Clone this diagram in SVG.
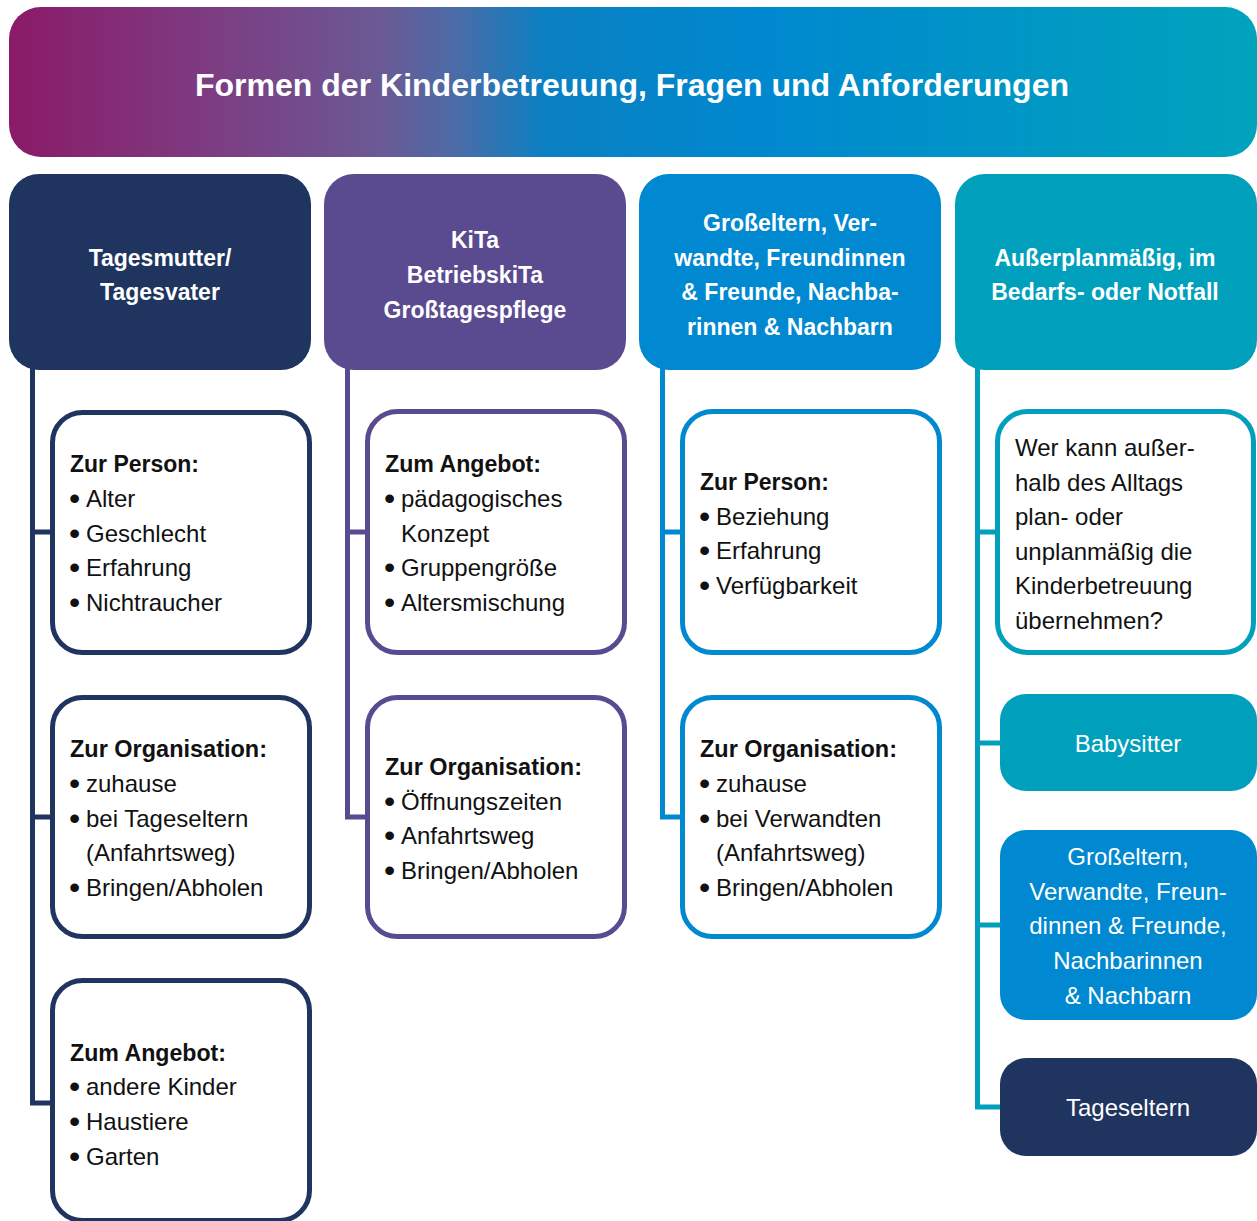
<svg xmlns="http://www.w3.org/2000/svg" width="1257" height="1221" viewBox="0 0 1257 1221">
<defs>
<linearGradient id="hg" x1="0" y1="0" x2="1" y2="0">
<stop offset="0" stop-color="#8B1A68"/>
<stop offset="0.17" stop-color="#7C3E83"/>
<stop offset="0.3" stop-color="#6A5A95"/>
<stop offset="0.36" stop-color="#4A6CA8"/>
<stop offset="0.43" stop-color="#0A80C2"/>
<stop offset="0.6" stop-color="#0088CF"/>
<stop offset="1" stop-color="#00A3BC"/>
</linearGradient>
<style>
text{font-family:"Liberation Sans",Arial,sans-serif;}
.t{fill:#fff;font-size:32px;font-weight:bold;}
.h{fill:#fff;font-size:23px;font-weight:bold;text-anchor:middle;}
.b{fill:#111;font-size:24px;}
.bu{font-size:32px;}
.bb{fill:#111;font-size:23px;font-weight:bold;}
.w{fill:#fff;font-size:24px;text-anchor:middle;}
.box{fill:#fff;stroke-width:5;}
.c{fill:none;stroke-width:5;}
.navy{fill:#1F3560;} .purple{fill:#5A4A90;} .blue{fill:#0088D0;} .teal{fill:#00A0BC;}
.sn{stroke:#1F3560;} .sp{stroke:#5A4A90;} .sb{stroke:#0088D0;} .st{stroke:#00A0BC;}
</style>
</defs>
<rect width="1257" height="1221" fill="#fff"/>

<g id="title">
<rect x="9" y="7" width="1248" height="150" rx="32" fill="url(#hg)"/>
<text class="t" x="632" y="96" text-anchor="middle" textLength="874" lengthAdjust="spacingAndGlyphs">Formen der Kinderbetreuung, Fragen und Anforderungen</text>
</g>

<g id="connectors">
<path class="c sn" d="M32.5,368 V1103 H53 M32.5,532 H53 M32.5,817 H53"/>
<path class="c sp" d="M347.5,368 V817 H368 M347.5,532 H368"/>
<path class="c sb" d="M662.5,368 V817 H683 M662.5,532 H683"/>
<path class="c st" d="M977.5,368 V1107 H1002 M977.5,532 H999 M977.5,743 H1002 M977.5,925 H1002"/>
</g>

<g id="col1-header">
<rect class="navy" x="9" y="174" width="302" height="196" rx="30"/>
<text class="h" x="160" y="266">Tagesmutter/</text>
<text class="h" x="160" y="300">Tagesvater</text>
</g>
<g id="col2-header">
<rect class="purple" x="324" y="174" width="302" height="196" rx="30"/>
<text class="h" x="475" y="248">KiTa</text>
<text class="h" x="475" y="283">BetriebskiTa</text>
<text class="h" x="475" y="318">Großtagespflege</text>
</g>
<g id="col3-header">
<rect class="blue" x="639" y="174" width="302" height="196" rx="30"/>
<text class="h" x="790" y="231">Großeltern, Ver-</text>
<text class="h" x="790" y="266">wandte, Freundinnen</text>
<text class="h" x="790" y="300">&amp; Freunde, Nachba-</text>
<text class="h" x="790" y="335">rinnen &amp; Nachbarn</text>
</g>
<g id="col4-header">
<rect class="teal" x="955" y="174" width="302" height="196" rx="30"/>
<text class="h" x="1105" y="266">Außerplanmäßig, im</text>
<text class="h" x="1105" y="300">Bedarfs- oder Notfall</text>
</g>

<g id="c1-person">
<rect class="box sn" x="52.5" y="412.5" width="257" height="240" rx="30"/>
<text class="bb" x="70" y="472" textLength="129" lengthAdjust="spacingAndGlyphs">Zur Person:</text>
<text class="b" x="69" y="507"><tspan class="bu" dy="2">•</tspan><tspan x="86" dy="-2">Alter</tspan></text>
<text class="b" x="69" y="542"><tspan class="bu" dy="2">•</tspan><tspan x="86" dy="-2">Geschlecht</tspan></text>
<text class="b" x="69" y="576"><tspan class="bu" dy="2">•</tspan><tspan x="86" dy="-2">Erfahrung</tspan></text>
<text class="b" x="69" y="611"><tspan class="bu" dy="2">•</tspan><tspan x="86" dy="-2">Nichtraucher</tspan></text>
</g>
<g id="c1-org">
<rect class="box sn" x="52.5" y="697.5" width="257" height="239" rx="30"/>
<text class="bb" x="70" y="757" textLength="197" lengthAdjust="spacingAndGlyphs">Zur Organisation:</text>
<text class="b" x="69" y="792"><tspan class="bu" dy="2">•</tspan><tspan x="86" dy="-2">zuhause</tspan></text>
<text class="b" x="69" y="827"><tspan class="bu" dy="2">•</tspan><tspan x="86" dy="-2">bei Tageseltern</tspan></text>
<text class="b" x="86" y="861">(Anfahrtsweg)</text>
<text class="b" x="69" y="896"><tspan class="bu" dy="2">•</tspan><tspan x="86" dy="-2">Bringen/Abholen</tspan></text>
</g>
<g id="c1-angebot">
<rect class="box sn" x="52.5" y="980.5" width="257" height="240" rx="30"/>
<text class="bb" x="70" y="1061" textLength="156" lengthAdjust="spacingAndGlyphs">Zum Angebot:</text>
<text class="b" x="69" y="1095"><tspan class="bu" dy="2">•</tspan><tspan x="86" dy="-2">andere Kinder</tspan></text>
<text class="b" x="69" y="1130"><tspan class="bu" dy="2">•</tspan><tspan x="86" dy="-2">Haustiere</tspan></text>
<text class="b" x="69" y="1165"><tspan class="bu" dy="2">•</tspan><tspan x="86" dy="-2">Garten</tspan></text>
</g>

<g id="c2-angebot">
<rect class="box sp" x="367.5" y="411.5" width="257" height="241" rx="30"/>
<text class="bb" x="385" y="472" textLength="156" lengthAdjust="spacingAndGlyphs">Zum Angebot:</text>
<text class="b" x="384" y="507"><tspan class="bu" dy="2">•</tspan><tspan x="401" dy="-2">pädagogisches</tspan></text>
<text class="b" x="401" y="542">Konzept</text>
<text class="b" x="384" y="576"><tspan class="bu" dy="2">•</tspan><tspan x="401" dy="-2">Gruppengröße</tspan></text>
<text class="b" x="384" y="611"><tspan class="bu" dy="2">•</tspan><tspan x="401" dy="-2">Altersmischung</tspan></text>
</g>
<g id="c2-org">
<rect class="box sp" x="367.5" y="697.5" width="257" height="239" rx="30"/>
<text class="bb" x="385" y="775" textLength="197" lengthAdjust="spacingAndGlyphs">Zur Organisation:</text>
<text class="b" x="384" y="810"><tspan class="bu" dy="2">•</tspan><tspan x="401" dy="-2">Öffnungszeiten</tspan></text>
<text class="b" x="384" y="844"><tspan class="bu" dy="2">•</tspan><tspan x="401" dy="-2">Anfahrtsweg</tspan></text>
<text class="b" x="384" y="879"><tspan class="bu" dy="2">•</tspan><tspan x="401" dy="-2">Bringen/Abholen</tspan></text>
</g>

<g id="c3-person">
<rect class="box sb" x="682.5" y="411.5" width="257" height="241" rx="30"/>
<text class="bb" x="700" y="490" textLength="129" lengthAdjust="spacingAndGlyphs">Zur Person:</text>
<text class="b" x="699" y="525"><tspan class="bu" dy="2">•</tspan><tspan x="716" dy="-2">Beziehung</tspan></text>
<text class="b" x="699" y="559"><tspan class="bu" dy="2">•</tspan><tspan x="716" dy="-2">Erfahrung</tspan></text>
<text class="b" x="699" y="594"><tspan class="bu" dy="2">•</tspan><tspan x="716" dy="-2">Verfügbarkeit</tspan></text>
</g>
<g id="c3-org">
<rect class="box sb" x="682.5" y="697.5" width="257" height="239" rx="30"/>
<text class="bb" x="700" y="757" textLength="197" lengthAdjust="spacingAndGlyphs">Zur Organisation:</text>
<text class="b" x="699" y="792"><tspan class="bu" dy="2">•</tspan><tspan x="716" dy="-2">zuhause</tspan></text>
<text class="b" x="699" y="827"><tspan class="bu" dy="2">•</tspan><tspan x="716" dy="-2">bei Verwandten</tspan></text>
<text class="b" x="716" y="861">(Anfahrtsweg)</text>
<text class="b" x="699" y="896"><tspan class="bu" dy="2">•</tspan><tspan x="716" dy="-2">Bringen/Abholen</tspan></text>
</g>

<g id="c4-question">
<rect class="box st" x="997.5" y="411.5" width="256" height="241" rx="30"/>
<text class="b" x="1015" y="456">Wer kann außer-</text>
<text class="b" x="1015" y="491">halb des Alltags</text>
<text class="b" x="1015" y="525">plan- oder</text>
<text class="b" x="1015" y="560">unplanmäßig die</text>
<text class="b" x="1015" y="594">Kinderbetreuung</text>
<text class="b" x="1015" y="629">übernehmen?</text>
</g>
<g id="c4-babysitter">
<rect class="teal" x="1000" y="694" width="257" height="97" rx="26"/>
<text class="w" x="1128" y="752">Babysitter</text>
</g>
<g id="c4-grosseltern">
<rect class="blue" x="1000" y="830" width="257" height="190" rx="26"/>
<text class="w" x="1128" y="865">Großeltern,</text>
<text class="w" x="1128" y="900">Verwandte, Freun-</text>
<text class="w" x="1128" y="934">dinnen &amp; Freunde,</text>
<text class="w" x="1128" y="969">Nachbarinnen</text>
<text class="w" x="1128" y="1004">&amp; Nachbarn</text>
</g>
<g id="c4-tageseltern">
<rect class="navy" x="1000" y="1058" width="257" height="98" rx="26"/>
<text class="w" x="1128" y="1116">Tageseltern</text>
</g>
</svg>
